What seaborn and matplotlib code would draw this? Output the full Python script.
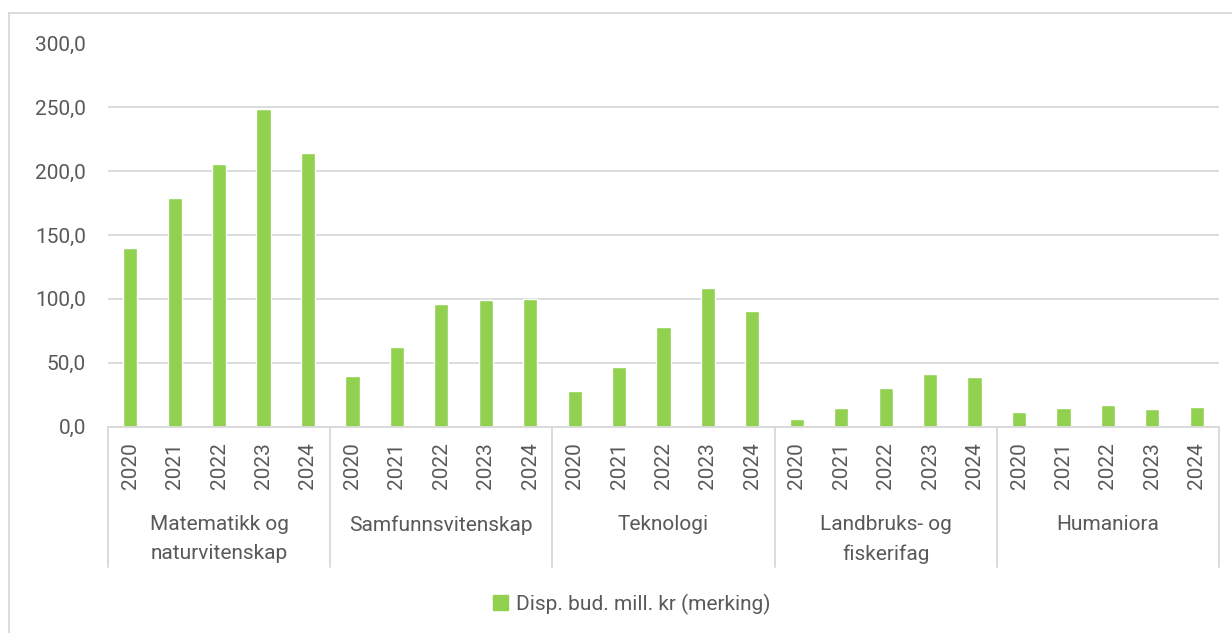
import pandas as pd
import matplotlib.pyplot as plt
import seaborn as sns
from matplotlib.lines import Line2D
from matplotlib.ticker import FuncFormatter

# Data
groups = ["Matematikk og\nnaturvitenskap", "Samfunnsvitenskap", "Teknologi",
          "Landbruks- og\nfiskerifag", "Humaniora"]
years = ["2020", "2021", "2022", "2023", "2024"]
mat_nat = [140.1, 178.7, 205.4, 248.5, 214.2]
samfunn = [39.7, 62.5, 95.6, 98.7, 99.5]
teknologi = [27.9, 46.6, 78.2, 108.2, 90.8]
landbruk = [5.5, 14.5, 30.3, 41.3, 38.4]
humaniora = [11.1, 14.5, 16.6, 13.4, 15.2]
series_name = "Disp. bud. mill. kr (merking)"

values = [mat_nat, samfunn, teknologi, landbruk, humaniora]
rows = []
for g, vals in zip(groups, values):
    for y, v in zip(years, vals):
        rows.append({"key": f"{g}|{y}", "group": g, "year": y, "value": v})
df = pd.DataFrame(rows)

sns.set_theme(style="white")
plt.rcParams["font.family"] = ["Roboto", "DejaVu Sans"]
grey = "#595959"
line_col = "#D9D9D9"
green = "#92D050"

ax_top, ax_bot = 43.5, 426.5
fig = plt.figure(figsize=(12.32, 6.33), dpi=100)
ax = fig.add_axes([108 / 1232, 1 - ax_bot / 633, (1219 - 108) / 1232, (ax_bot - ax_top) / 633])

sns.barplot(data=df, x="key", y="value", color=green, width=0.32,
            saturation=1, ax=ax, label=series_name)

ax.set_ylim(0, 300)
ax.set_xlim(-0.5, len(df) - 0.5)
ax.set_yticks(range(0, 301, 50))
ax.yaxis.set_major_formatter(FuncFormatter(lambda v, p: f"{v:.1f}".replace(".", ",")))
ax.yaxis.grid(True, color=line_col, linewidth=1.3)
ax.set_axisbelow(True)
for s in ["top", "right", "left"]:
    ax.spines[s].set_visible(False)
ax.spines["bottom"].set_color(line_col)
ax.spines["bottom"].set_linewidth(1.3)
ax.set_xlabel("")
ax.set_ylabel("")

ax.set_xticks(range(len(df)))
ax.set_xticklabels(df["year"], rotation=90, fontsize=15, color=grey)
ax.tick_params(axis="x", length=0, pad=11.5)
ax.tick_params(axis="y", length=0, pad=16, labelsize=15, labelcolor=grey)

# group separators and labels
trans = ax.get_xaxis_transform()
h = ax_bot - ax_top
sep_bottom = -(567 - ax_bot) / h
n = len(years)
for i in range(len(groups) + 1):
    xpos = i * n - 0.5
    ax.plot([xpos, xpos], [0, sep_bottom], transform=trans, color=line_col,
            linewidth=1.3, clip_on=False)
for i, g in enumerate(groups):
    ax.text(i * n + (n - 1) / 2, -(515 - ax_bot) / h, g, transform=trans,
            ha="center", va="top", fontsize=15, color=grey, linespacing=1.65)

# legend
handle = plt.Rectangle((0, 0), 1, 1, color=green)
fig.legend([handle], [series_name], loc="center", bbox_to_anchor=(632 / 1232, 29 / 633),
           frameon=False, fontsize=15, labelcolor=grey, handlelength=0.7,
           handleheight=0.7, handletextpad=0.4)
if ax.get_legend() is not None:
    ax.get_legend().remove()

# chart border
fig.add_artist(Line2D([9 / 1232, 9 / 1232], [0, 1 - 13 / 633], color=line_col, linewidth=1.3))
fig.add_artist(Line2D([9 / 1232, 1], [1 - 13 / 633, 1 - 13 / 633], color=line_col, linewidth=1.3))

fig.savefig("out.png", dpi=100, facecolor="white")
